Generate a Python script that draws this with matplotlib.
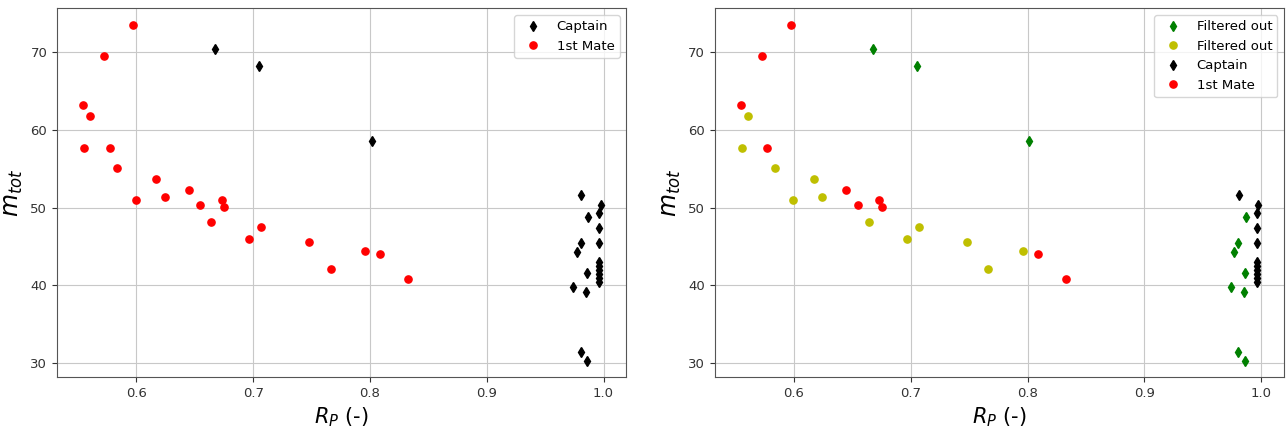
import matplotlib.pyplot as plt
import numpy as np

# Captain (diamonds)
captain_R = [0.6677, 0.7054, 0.8014, 0.9811, 0.9974, 0.9963, 0.9866, 0.9960, 0.9805,
             0.9963, 0.9771, 0.9960, 0.9960, 0.9960, 0.9960, 0.9960, 0.9960, 0.9860,
             0.9740, 0.9850, 0.9805, 0.9860]
captain_m = [70.46, 68.27, 58.55, 51.63, 50.30, 49.30, 48.75, 47.37, 45.48,
             45.48, 44.27, 42.98, 42.55, 42.04, 41.52, 40.92, 40.40, 41.65,
             39.81, 39.11, 31.42, 30.34]
captain_kept = [0, 0, 0, 1, 1, 1, 0, 1, 0, 1, 0, 1, 1, 1, 1, 1, 1, 0, 0, 0, 0, 0]

# 1st Mate (circles)
mate_R = [0.5974, 0.5726, 0.5542, 0.5602, 0.5551, 0.5771, 0.5834, 0.6168, 0.6448,
          0.5994, 0.6243, 0.6548, 0.6731, 0.6751, 0.6643, 0.6968, 0.7068, 0.7477,
          0.7665, 0.7957, 0.8088, 0.8325]
mate_m = [73.52, 69.52, 63.29, 61.87, 57.69, 57.69, 55.07, 53.74, 52.32,
          50.94, 51.37, 50.30, 51.03, 50.04, 48.19, 46.00, 47.50, 45.65,
          42.17, 44.45, 44.01, 40.84]
mate_kept = [1, 1, 1, 0, 0, 1, 0, 0, 1, 0, 0, 1, 1, 1, 0, 0, 0, 0, 0, 0, 1, 1]

cR = np.array(captain_R); cm = np.array(captain_m); ck = np.array(captain_kept, bool)
mR = np.array(mate_R); mm = np.array(mate_m); mk = np.array(mate_kept, bool)

fig, (ax1, ax2) = plt.subplots(1, 2, figsize=(12.87, 4.29), dpi=100)
plt.subplots_adjust(left=0.0443, right=0.9977, bottom=0.1205, top=0.9807, wspace=0.155)

ms = 5.2
ax1.plot(cR, cm, 'kd', ms=ms, label='Captain', linestyle='none')
ax1.plot(mR, mm, 'ro', ms=ms, label='1st Mate', linestyle='none')

ax2.plot(cR[~ck], cm[~ck], 'gd', ms=ms, label='Filtered out', linestyle='none')
ax2.plot(mR[~mk], mm[~mk], 'yo', ms=ms, label='Filtered out', linestyle='none')
ax2.plot(cR[ck], cm[ck], 'kd', ms=ms, label='Captain', linestyle='none')
ax2.plot(mR[mk], mm[mk], 'ro', ms=ms, label='1st Mate', linestyle='none')

for ax in (ax1, ax2):
    ax.grid(True, color='#c8c8c8')
    for s in ax.spines.values():
        s.set_color('#555555')
    ax.tick_params(labelsize=9.5, colors='#333333')
    ax.set_xlabel(r'$R_P$ (-)', fontsize=15)
    ax.set_ylabel(r'$m_{tot}$', fontsize=17)
    ax.legend(loc='upper right', fontsize=9.5)

fig.savefig('out.png')
